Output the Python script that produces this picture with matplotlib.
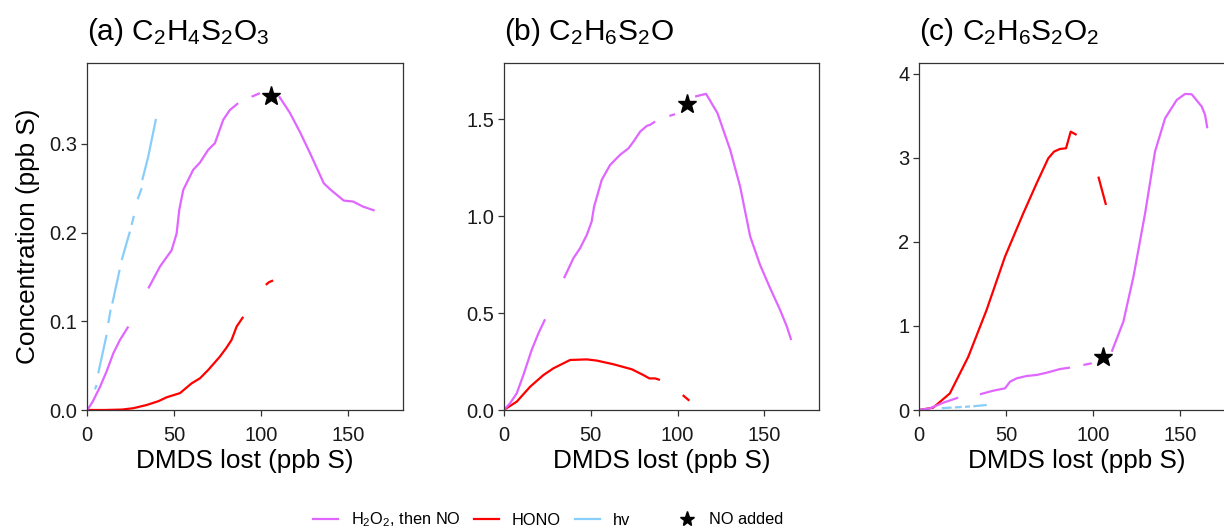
import numpy as np
import matplotlib
matplotlib.use("Agg")
import matplotlib.pyplot as plt
from matplotlib.lines import Line2D

plt.rcParams['font.family'] = ['Liberation Sans', 'DejaVu Sans']
plt.rcParams['mathtext.default'] = 'regular'

nan = np.nan

# ---- data (nan = gap in the record) ----
# (a) C2H4S2O3
a_h2o2_x = [0, 3, 7.3, 11, 15, 18.8, 23.6, nan, 35.1, 41.8, 48.5, 51.4, 52.9, 55.2, 60.9, 64.8, 69.5, 72.4, 73.4,
            78.2, 82, 86.8, nan, 94.5, 99.3, nan, 110.3, 116.5, 122.2, 128, 136, 139.5, 147.5, 152.9, 158.6, 165.3]
a_h2o2_y = [0, 0.009, 0.026, 0.043, 0.064, 0.079, 0.094, nan, 0.137, 0.1616, 0.180, 0.199, 0.2255, 0.248, 0.2706,
            0.2788, 0.293, 0.2988, 0.3006, 0.327, 0.338, 0.3457, nan, 0.353, 0.357, nan, 0.3535, 0.335, 0.3137,
            0.29, 0.2556, 0.249, 0.236, 0.2349, 0.2292, 0.2247]
a_hono_x = [0, 10, 20, 26.4, 34.1, 41, 45.6, 53.3, 60, 64.8, 69.5, 76.2, 80, 83, 85.9, 89.7, nan, 102.7, 104.5, 106.9]
a_hono_y = [0, 0, 0.0005, 0.002, 0.0056, 0.010, 0.0143, 0.019, 0.030, 0.0357, 0.045, 0.060, 0.070, 0.079, 0.094,
            0.105, nan, 0.141, 0.144, 0.146]
a_hv_x = [4.4, 5.4, nan, 6.3, 11.1, nan, 12.1, 13.4, nan, 14.4, 18.6, nan, 19.8, 24.5, nan, 25.5, 26.8, nan,
          29, 31.3, nan, 31.6, 35, 39.5]
a_hv_y = [0.0233, 0.0282, nan, 0.0414, 0.0846, nan, 0.098, 0.113, nan, 0.120, 0.158, nan, 0.169, 0.201, nan,
          0.2086, 0.2187, nan, 0.2375, 0.25, nan, 0.259, 0.285, 0.328]
a_star = (105.5, 0.354)

# (b) C2H6S2O
b_h2o2_x = [0, 3.6, 7.5, 11.3, 16.1, 20, 23.8, nan, 34.7, 40.1, 43.9, 47.8, 50.6, 52, 56.4, 61.2, 66.9, 71.8, 74.7,
            78.5, 82.4, 84.2, 87.1, nan, 95.3, 98.6, nan, 110.1, 116.4, 123, 130.3, 136, 141.8, 147.5, 153.3, 159,
            162.9, 165.4]
b_h2o2_y = [0, 0.034, 0.086, 0.18, 0.31, 0.396, 0.468, nan, 0.68, 0.783, 0.834, 0.903, 0.972, 1.049, 1.187, 1.264,
            1.316, 1.35, 1.385, 1.436, 1.466, 1.471, 1.488, nan, 1.517, 1.526, nan, 1.617, 1.631, 1.531, 1.342,
            1.153, 0.895, 0.748, 0.628, 0.516, 0.43, 0.361]
b_hono_x = [0, 7.5, 15.2, 22.8, 28.6, 38.2, 47.8, 53.5, 63.1, 73.7, 80.4, 83.8, 87.1, 89.9, nan, 103, 106.8]
b_hono_y = [0, 0.043, 0.12, 0.18, 0.215, 0.258, 0.261, 0.255, 0.236, 0.21, 0.18, 0.163, 0.163, 0.155, nan,
            0.077, 0.048]
b_star = (105.3, 1.579)

# (c) C2H6S2O2
c_h2o2_x = [0, 6.1, 13.8, 22.4, nan, 34.9, 42.6, 49.3, 52.2, 56, 61.8, 67.5, 73.3, 81, 86.7, nan, 94.4, 99.2, nan,
            110.7, 117.4, 123.2, 129.9, 135.6, 141.4, 148.1, 152.9, 156.7, 162.5, 164.4, 165.7]
c_h2o2_y = [0, 0.02, 0.087, 0.147, nan, 0.187, 0.23, 0.258, 0.337, 0.377, 0.405, 0.417, 0.444, 0.488, 0.504, nan,
            0.536, 0.556, nan, 0.694, 1.052, 1.587, 2.341, 3.075, 3.472, 3.69, 3.762, 3.758, 3.611, 3.512, 3.353]
c_hono_x = [0, 8, 17.6, 28.2, 38.7, 49.3, 59.8, 67.5, 74.2, 77.5, 80.9, 84.4, 87.1, 90.5, nan, 103, 107.4]
c_hono_y = [0, 0.028, 0.198, 0.635, 1.19, 1.825, 2.34, 2.698, 2.996, 3.075, 3.107, 3.115, 3.313, 3.274, nan,
            2.778, 2.44]
c_hv_x = [0, 5, nan, 12.9, 18.6, nan, 20.5, 24.4, nan, 26.3, 29.2, nan, 31.1, 38.8]
c_hv_y = [0, 0.008, nan, 0.022, 0.029, nan, 0.031, 0.036, nan, 0.038, 0.042, nan, 0.045, 0.06]
c_star = (105.5, 0.627)

titles = [r"(a) C$_2$H$_4$S$_2$O$_3$", r"(b) C$_2$H$_6$S$_2$O", r"(c) C$_2$H$_6$S$_2$O$_2$"]
ylims = [0.391, 1.79, 4.13]
yticks = [[0.0, 0.1, 0.2, 0.3], [0.0, 0.5, 1.0, 1.5], [0, 1, 2, 3, 4]]
ytick_labels = [["0.0", "0.1", "0.2", "0.3"], ["0.0", "0.5", "1.0", "1.5"], ["0", "1", "2", "3", "4"]]

PURPLE = "#E066FF"
RED = "#FF0000"
BLUE = "#87CEFA"

W, H = 1224, 531
fig = plt.figure(figsize=(W / 100, H / 100), dpi=100)

lefts = [87.3, 503.7, 919.3]
ax_w = 315.5
ax_top, ax_bot = 63, 410

panels = [
    (a_h2o2_x, a_h2o2_y, a_hono_x, a_hono_y, a_hv_x, a_hv_y, a_star),
    (b_h2o2_x, b_h2o2_y, b_hono_x, b_hono_y, None, None, b_star),
    (c_h2o2_x, c_h2o2_y, c_hono_x, c_hono_y, c_hv_x, c_hv_y, c_star),
]

for i, (hx, hy, rx, ry, bx, by, star) in enumerate(panels):
    ax = fig.add_axes([lefts[i] / W, 1 - ax_bot / H, ax_w / W, (ax_bot - ax_top) / H])
    if bx is not None:
        ax.plot(bx, by, color=BLUE, lw=1.6, solid_capstyle='butt')
    ax.plot(rx, ry, color=RED, lw=1.6, solid_capstyle='butt')
    ax.plot(hx, hy, color=PURPLE, lw=1.6, solid_capstyle='butt')
    ax.plot(*star, marker='*', color='black', ms=14, ls='none')

    ax.set_xlim(0, 181.5)
    ax.set_ylim(0, ylims[i])
    ax.set_xticks([0, 50, 100, 150])
    ax.set_yticks(yticks[i])
    ax.set_yticklabels(ytick_labels[i])
    ax.tick_params(labelsize=14.5, length=4, width=0.9, colors='#333333', labelcolor='#1a1a1a')
    ax.tick_params(axis='x', pad=7.5)
    ax.tick_params(axis='y', pad=3)
    for s in ax.spines.values():
        s.set_color('#333333')
        s.set_linewidth(0.9)
    ax.set_xlabel("DMDS lost (ppb S)", fontsize=18.8, labelpad=3)
    if i == 0:
        ax.set_ylabel("Concentration (ppb S)", fontsize=18.8, labelpad=7)
    fig.text(lefts[i] / W, 1 - 40 / H, titles[i], fontsize=21.5, va='baseline', ha='left')

# legend: line colours, then the star separately
line_handles = [Line2D([], [], color=PURPLE, lw=1.6),
                Line2D([], [], color=RED, lw=1.6),
                Line2D([], [], color=BLUE, lw=1.6)]
fig.legend(line_handles, [r"H$_2$O$_2$, then NO", "HONO", "hv"], ncol=3, frameon=False,
           loc='center left', bbox_to_anchor=(313 / W, 1 - 520 / H), fontsize=11.8,
           handlelength=1.5, handletextpad=0.8, columnspacing=0.85, borderpad=0, borderaxespad=0)
star_handle = [Line2D([], [], color='black', marker='*', ms=11, ls='none')]
fig.legend(star_handle, ["NO added"], frameon=False, loc='center left',
           bbox_to_anchor=(675 / W, 1 - 520 / H), fontsize=11.8,
           handlelength=1.5, handletextpad=0.6, borderpad=0, borderaxespad=0)

fig.savefig("out.png", dpi=100)
